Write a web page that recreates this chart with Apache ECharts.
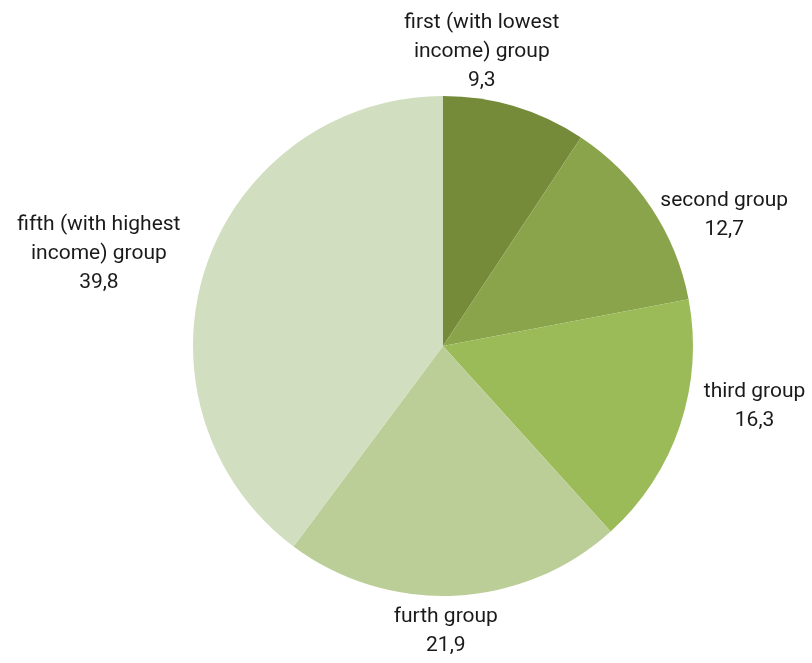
<!DOCTYPE html>
<html>
<head>
<meta charset="utf-8">
<style>html,body{margin:0;padding:0;background:#fff;}#c{width:812px;height:663px;}</style>
<script src="https://cdn.jsdelivr.net/npm/echarts@6/dist/echarts.min.js"></script>
</head>
<body>
<div id="c"></div>
<script>
var categories = ['first (with lowest\nincome) group', 'second group', 'third group', 'furth group', 'fifth (with highest\nincome) group'];
var values = [9.3, 12.7, 16.3, 21.9, 39.8];

var colors = ['#758B3A', '#89A44A', '#9BBB59', '#BCCE97', '#D1DEBF'];
var CX = 443, CY = 346, R = 250, GAP = 12;
var nudges = [[-59, -2], [10, 31], [15, -32], [-12, -5], [-18, 4]];

var total = values.reduce(function (a, b) { return a + b; }, 0);
var mids = [];
var acc = 0;
values.forEach(function (v) { mids.push((acc + v / 2) / total * 2 * Math.PI); acc += v; });

var chart = echarts.init(document.getElementById('c'));
chart.setOption({
  animation: false,
  series: [{
    type: 'pie',
    center: [CX, CY],
    radius: [0, R],
    startAngle: 90,
    clockwise: true,
    data: categories.map(function (c, i) { return { name: c, value: values[i], itemStyle: { color: colors[i] } }; }),
    label: {
      show: true,
      position: 'outside',
      alignTo: 'none',
      overflow: 'none',
      formatter: function (p) { return p.name + '\n' + String(p.value).replace('.', ','); },
      fontFamily: 'Roboto',
      fontSize: 21,
      lineHeight: 29,
      color: '#1a1a1a'
    },
    labelLine: { show: false },
    emphasis: { disabled: true },
    labelLayout: function (p) {
      var i = p.dataIndex;
      var a = mids[i];
      var dx = Math.sin(a), dy = -Math.cos(a);
      var w = p.labelRect.width, h = p.labelRect.height;
      var x = CX + dx * (R + GAP) + dx * w / 2 + nudges[i][0];
      var y = CY + dy * (R + GAP) + dy * h / 2 + nudges[i][1];
      return { x: x, y: y, align: 'center', verticalAlign: 'middle' };
    }
  }]
});
</script>
</body>
</html>
